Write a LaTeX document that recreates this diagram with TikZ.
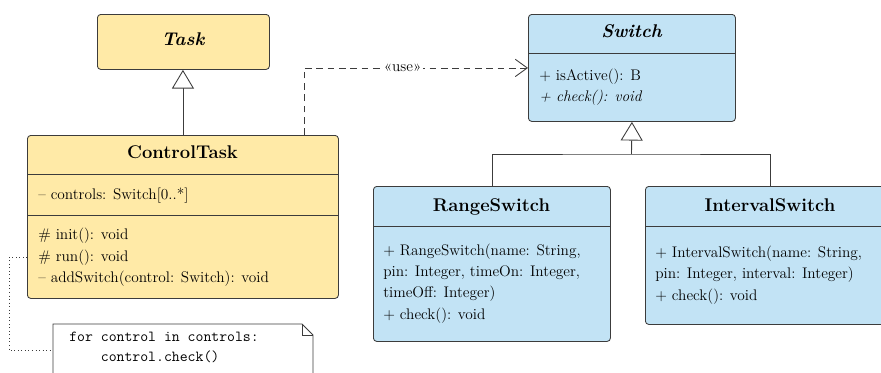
\documentclass[tikz,border=0pt]{standalone}
\usepackage{tikz}
\usetikzlibrary{arrows.meta}

\definecolor{taskyellow}{RGB}{255,234,167}
\definecolor{switchblue}{RGB}{194,227,245}
\definecolor{umlline}{RGB}{60,60,60}

\tikzset{
  classbox/.style={draw=umlline, line width=0.65pt, rounded corners=2.5pt, anchor=north west, inner sep=0pt},
  classname/.style={anchor=base, font=\fontsize{13.8}{16}\selectfont\bfseries, inner sep=0pt},
  member/.style={anchor=base west, inner sep=0pt, font=\fontsize{11.5}{14}\selectfont},
  divider/.style={draw=umlline, line width=0.65pt},
  inherit/.style={draw=umlline, line width=0.65pt, -{Triangle[open, length=14pt, width=16.5pt, fill=white]}},
  usedep/.style={draw=umlline, line width=0.65pt, dash pattern=on 5pt off 3.5pt, -{Straight Barb[length=9pt, width=13pt]}},
  notelink/.style={draw=umlline, line width=0.65pt, dotted}
}

\begin{document}
\begin{tikzpicture}[x=0.75pt,y=0.75pt,yscale=-1,xscale=1]
\useasboundingbox (0,0) rectangle (881,372);
\clip (0,0) rectangle (881,372);

%Shape: Task
\node[classbox, fill=taskyellow, minimum width=129pt, minimum height=41.25pt] (task) at (97,14) {};
% Text Node
\node[classname] at (183,45.5) {\itshape Task};

%Shape: ControlTask
\node[classbox, fill=taskyellow, minimum width=233.25pt, minimum height=122.25pt] (ctask) at (27,135) {};
\draw[divider] (27,174) -- (338,174);
\draw[divider] (27,215) -- (338,215);
% Text Node
\node[classname] at (182.5,158) {ControlTask};
\node[member] at (38,199) {-- controls: Switch[0..*]};
\node[member] at (38,239.5) {\# init(): void};
\node[member] at (38,261) {\# run(): void};
\node[member] at (38,282) {-- addSwitch(control: Switch): void};

%Shape: Switch
\node[classbox, fill=switchblue, minimum width=155.25pt, minimum height=80.25pt] (switch) at (528,14) {};
\draw[divider] (528,53) -- (735,53);
% Text Node
\node[classname] at (631.5,37.5) {\itshape Switch};
\node[member] at (539,80.5) {+ isActive(): B};
\node[member] at (539,101.5) {\itshape + check(): void};

%Shape: RangeSwitch
\node[classbox, fill=switchblue, minimum width=177.75pt, minimum height=116.25pt] (rswitch) at (373,186) {};
\draw[divider] (373,226) -- (610,226);
% Text Node
\node[classname] at (491.5,211) {RangeSwitch};
\node[member] at (383,255) {+ RangeSwitch(name: String,};
\node[member] at (383,276.5) {pin: Integer, timeOn: Integer,};
\node[member] at (383,297.5) {timeOff: Integer)};
\node[member] at (383,319) {+ check(): void};

%Shape: IntervalSwitch
\node[classbox, fill=switchblue, minimum width=187.5pt, minimum height=103.5pt] (iswitch) at (645,186) {};
\draw[divider] (645,226) -- (895,226);
% Text Node
\node[classname] at (770,211) {IntervalSwitch};
\node[member] at (655,257.5) {+ IntervalSwitch(name: String,};
\node[member] at (655,278.5) {pin: Integer, interval: Integer)};
\node[member] at (655,300.5) {+ check(): void};

%Shape: Note
\node[anchor=north west, inner sep=0pt, minimum width=195pt, minimum height=39pt] (note) at (53,324) {};
\draw[umlline, line width=0.65pt, fill=white] (53,324) -- (302,324) -- (313,335) -- (313,376) -- (53,376) -- cycle;
\draw[umlline, line width=0.65pt] (302,324) -- (302,335) -- (313,335);
% Text Node
\node[member, font=\fontsize{11.5}{14}\selectfont\ttfamily] at (69,341.5) {for control in controls:};
\node[member, font=\fontsize{11.5}{14}\selectfont\ttfamily] at (69,361.5) {\ \ \ \ control.check()};

%Connectors
\draw[inherit] (ctask.north) -- (ctask.north |- task.south);
\coordinate (usestart) at (304,135);
\draw[usedep] (usestart) |- node[pos=0.72, fill=white, inner sep=1pt, font=\fontsize{11.5}{14}\selectfont] {«use»} (switch.west);
\coordinate (join) at (631.5,154);
\draw[umlline, line width=0.65pt] (rswitch.north) |- (join) -| (iswitch.north);
\draw[inherit] (join) -- (switch.south);
\coordinate (runpt) at (27,257);
\draw[notelink] (runpt) -- (9,257) |- (note.west);

\end{tikzpicture}
\end{document}
